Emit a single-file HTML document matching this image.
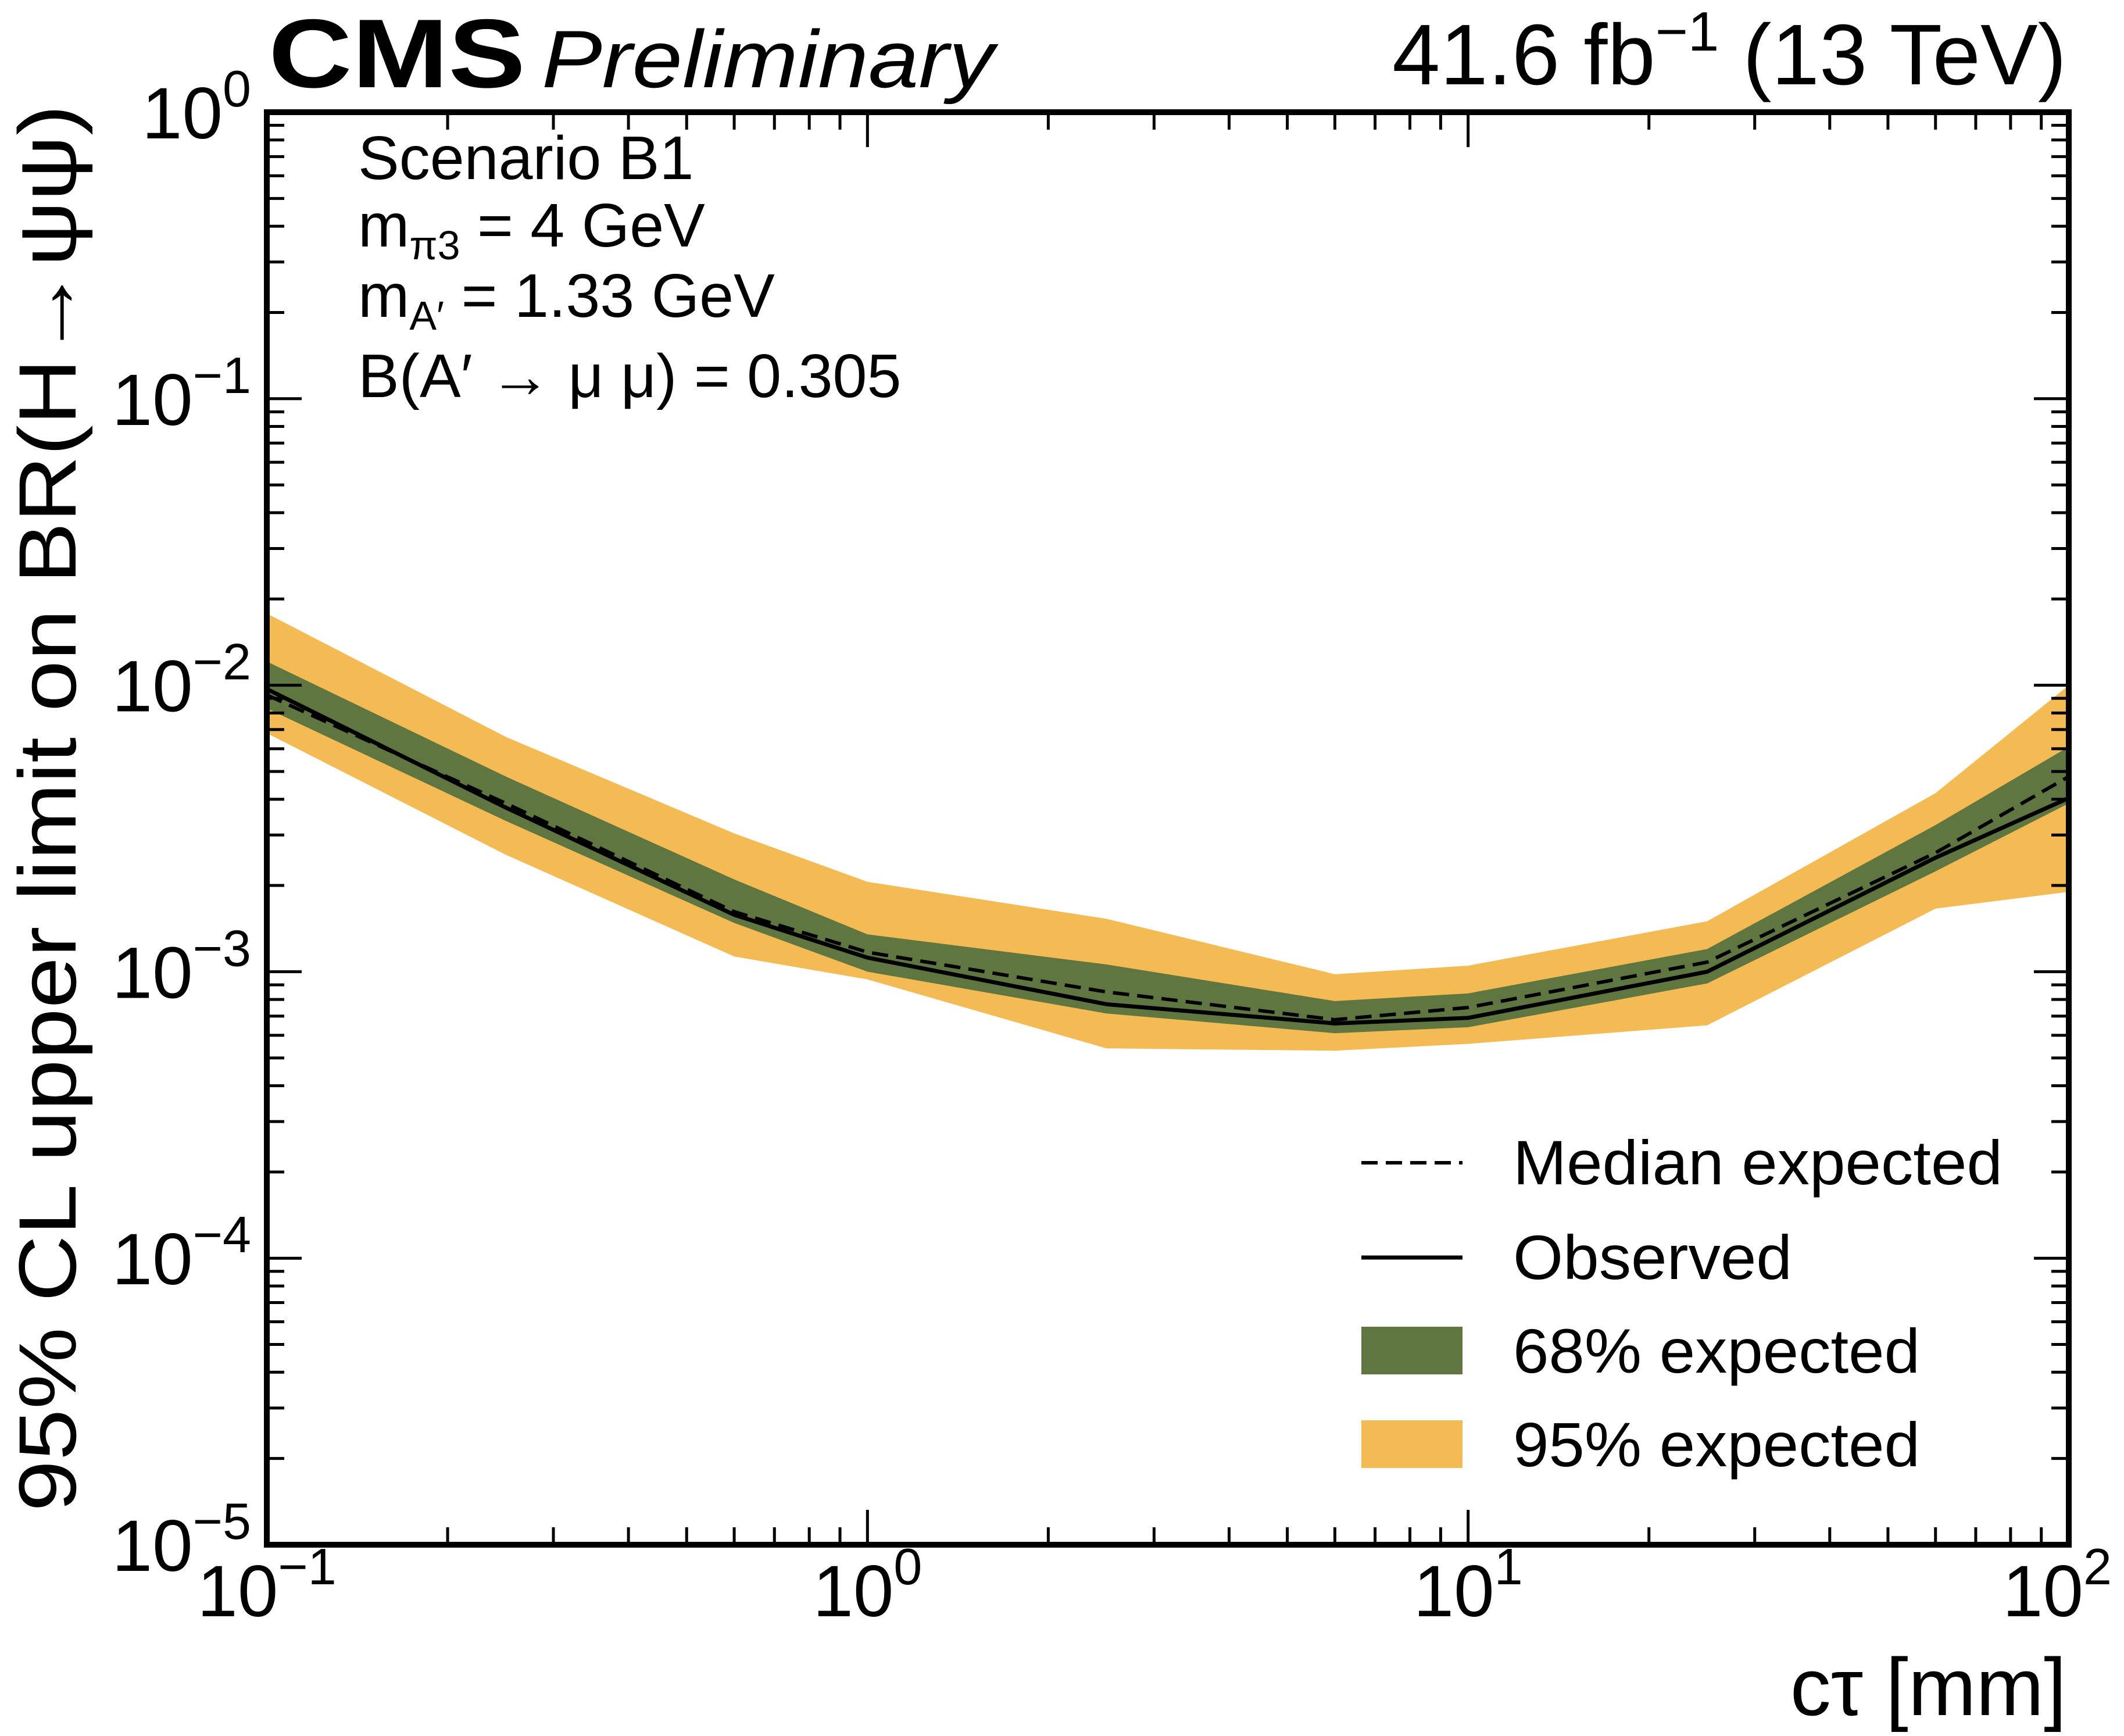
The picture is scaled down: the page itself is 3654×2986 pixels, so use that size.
<!DOCTYPE html>
<html><head><meta charset="utf-8"><style>
html,body{margin:0;padding:0;background:#fff}
svg{display:block}
text{font-family:"Liberation Sans",sans-serif;fill:#000}
</style></head><body>
<svg id="chart" width="3654" height="2986" viewBox="0 0 3654 2986" xmlns="http://www.w3.org/2000/svg">
<g id="bands"></g>
<g id="lines"></g>
<g id="ticks"></g>
<rect x="459" y="193" width="3100" height="2464" fill="none" stroke="#000" stroke-width="10"/>
<g id="labels"></g>
<text x="462" y="150" font-size="168" font-weight="bold" textLength="442" lengthAdjust="spacingAndGlyphs">CMS</text>
<text x="932" y="150" font-size="140" font-style="italic" textLength="778" lengthAdjust="spacingAndGlyphs">Preliminary</text>
<text x="3555" y="145" font-size="148" text-anchor="end">41.6 fb<tspan dy="-58" font-size="96">−1</tspan><tspan dy="58"> (13 TeV)</tspan></text>
<g font-size="106">
<text x="616" y="308">Scenario B1</text>
<text x="616" y="424">m<tspan dy="22" font-size="70">π3</tspan><tspan dy="-22"> = 4 GeV</tspan></text>
<text x="616" y="545">m<tspan dy="22" font-size="70">A′</tspan><tspan dy="-22"> = 1.33 GeV</tspan></text>
<text x="616" y="683">B(A′ → μ μ) = 0.305</text>
</g>
<text transform="translate(130,2600) rotate(-90)" font-size="140" textLength="2420" lengthAdjust="spacingAndGlyphs">95% CL upper limit on BR(H→ψψ)</text>
<text x="3555" y="2950" font-size="140" text-anchor="end">cτ [mm]</text>
<g>
<line x1="2342" y1="2000" x2="2516" y2="2000" stroke="#000" stroke-width="6" stroke-dasharray="28,14"/>
<text x="2603" y="2037" font-size="108" textLength="842" lengthAdjust="spacingAndGlyphs">Median expected</text>
<line x1="2342" y1="2163" x2="2516" y2="2163" stroke="#000" stroke-width="7"/>
<text x="2603" y="2200" font-size="108" textLength="480" lengthAdjust="spacingAndGlyphs">Observed</text>
<rect x="2342" y="2282" width="174" height="82" fill="#607641"/>
<text x="2603" y="2361" font-size="108" textLength="700" lengthAdjust="spacingAndGlyphs">68% expected</text>
<rect x="2342" y="2443" width="174" height="82" fill="#F4BB54"/>
<text x="2603" y="2522" font-size="108" textLength="700" lengthAdjust="spacingAndGlyphs">95% expected</text>
</g>
</svg>
<script>
const ctau = [0.1, 0.25, 0.6, 1, 2.5, 6, 10, 25, 60, 100];
const band95Hi = [0.0178, 0.0066, 0.00304, 0.00206, 0.00153, 0.00098, 0.00105, 0.0015, 0.0042, 0.010];
const band95Lo = [0.0068, 0.00256, 0.00113, 0.00094, 0.00054, 0.00053, 0.00056, 0.00065, 0.00166, 0.0019];
const band68Hi = [0.0121, 0.0048, 0.0021, 0.00135, 0.00106, 0.00079, 0.00084, 0.0012, 0.00325, 0.0061];
const band68Lo = [0.0083, 0.00336, 0.00148, 0.0010, 0.000715, 0.00061, 0.00064, 0.00091, 0.00224, 0.00387];
const median = [0.00925, 0.00387, 0.00162, 0.00117, 0.00085, 0.00068, 0.00075, 0.00108, 0.0026, 0.0048];
const observed = [0.0097, 0.00374, 0.00158, 0.00112, 0.00077, 0.00066, 0.00069, 0.0010, 0.0025, 0.00404];
const xTickLabels = ["10^-1","10^0","10^1","10^2"];
const yTickLabels = ["10^-5","10^-4","10^-3","10^-2","10^-1","10^0"];

const X0=459,X1=3559,Y0=2657,Y1=193;
const xmin=-1,xmax=2,ymin=-5,ymax=0;
const NS="http://www.w3.org/2000/svg";
function sx(v){return X0+(Math.log10(v)-xmin)/(xmax-xmin)*(X1-X0);}
function sy(v){return Y0-(Math.log10(v)-ymin)/(ymax-ymin)*(Y0-Y1);}
function mk(tag,attrs,parent){const e=document.createElementNS(NS,tag);for(const k in attrs)e.setAttribute(k,attrs[k]);parent.appendChild(e);return e;}
function bandPath(hi,lo){let d="";ctau.forEach((c,i)=>{d+=(i?"L":"M")+sx(c)+","+sy(hi[i]);});for(let i=ctau.length-1;i>=0;i--)d+="L"+sx(ctau[i])+","+sy(lo[i]);return d+"Z";}
function linePath(a){return ctau.map((c,i)=>(i?"L":"M")+sx(c)+","+sy(a[i])).join("");}
const bands=document.getElementById("bands"),lines=document.getElementById("lines"),ticks=document.getElementById("ticks"),labels=document.getElementById("labels");
const b95=mk("path",{d:bandPath(band95Hi,band95Lo),fill:"#F4BB54"},bands);


const b68=mk("path",{d:bandPath(band68Hi,band68Lo),fill:"#607641"},bands);


const lm=mk("path",{d:linePath(median),fill:"none",stroke:"#000","stroke-width":6,"stroke-dasharray":"28,14"},lines);


const lo=mk("path",{d:linePath(observed),fill:"none",stroke:"#000","stroke-width":7},lines);


for(let e=xmin;e<xmax;e++){for(let m=1;m<10;m++){const x=sx(m*Math.pow(10,e));if(m===1&&e===xmin)continue;const L=m===1?60:30;
 const t1=mk("line",{x1:x,y1:Y0,x2:x,y2:Y0-L,stroke:"#000","stroke-width":5},ticks);
 
 
 const t2=mk("line",{x1:x,y1:Y1,x2:x,y2:Y1+L,stroke:"#000","stroke-width":5},ticks);
 
 }}
for(let e=ymin;e<ymax;e++){for(let m=1;m<10;m++){const y=sy(m*Math.pow(10,e));if(m===1&&e===ymin)continue;const L=m===1?60:30;
 const t1=mk("line",{x1:X0,y1:y,x2:X0+L,y2:y,stroke:"#000","stroke-width":5},ticks);
 
 
 const t2=mk("line",{x1:X1,y1:y,x2:X1-L,y2:y,stroke:"#000","stroke-width":5},ticks);
 
 }}
function expLabel(s,x,y,anchor,name){const [b,p]=s.split("^");const t=mk("text",{x:x,y:y,"font-size":125,"text-anchor":anchor},labels);
 
 
 const a=document.createElementNS(NS,"tspan");a.textContent=b;t.appendChild(a);
 const s2=document.createElementNS(NS,"tspan");s2.setAttribute("dy","-55");s2.setAttribute("font-size","88");s2.textContent=p.replace("-","−");t.appendChild(s2);}
xTickLabels.forEach((s,i)=>{const x=sx(Math.pow(10,xmin+i));expLabel(s,x+(i===xTickLabels.length-1?-20:0),2780,"middle","x-tick-label");});
yTickLabels.forEach((s,i)=>{const y=sy(Math.pow(10,ymin+i));expLabel(s,432,y+45,"end","y-tick-label");});
</script>
</body></html>
